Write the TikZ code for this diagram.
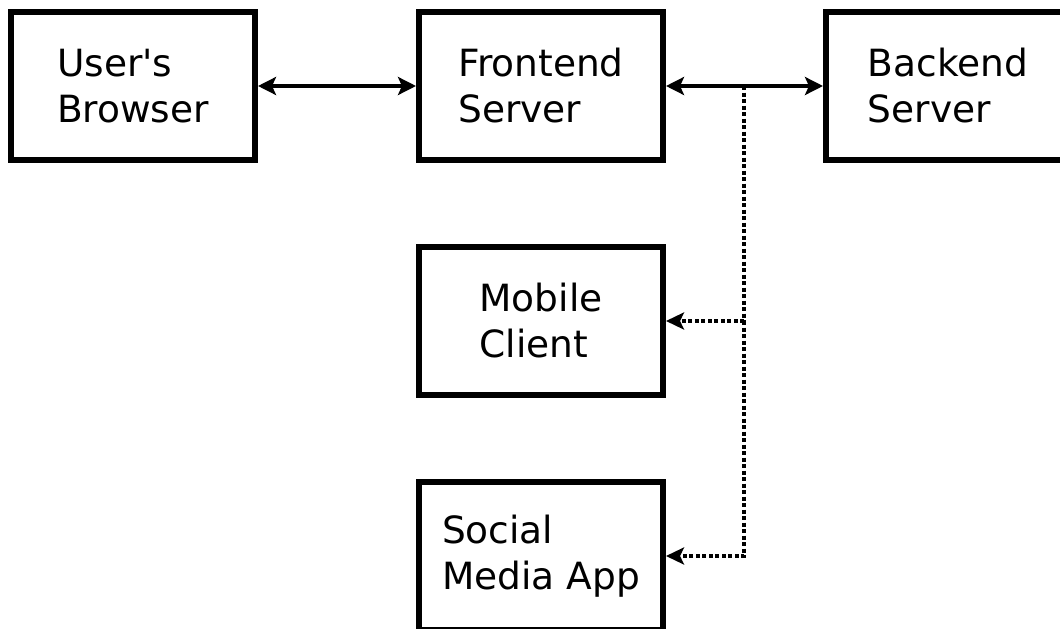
\documentclass[tikz,border=0pt]{standalone}
\usepackage{fontspec}
\setmainfont{DejaVu Sans}
\usetikzlibrary{arrows.meta}
\begin{document}
\begin{tikzpicture}[x=1pt,y=-1pt,
  box/.style={draw=black,line width=6pt,fill=white,minimum width=244pt,minimum height=148pt,
    inner sep=0pt,align=left,font=\fontsize{37.5}{46}\selectfont},
  link/.style={line width=3.5pt,{Stealth[length=18pt,width=18pt,inset=4pt]}-{Stealth[length=18pt,width=18pt,inset=4pt]}},
  feedline/.style={line width=4pt,dash pattern=on 4pt off 2.5pt},
  feed/.style={feedline,-{Stealth[length=18pt,width=17pt,inset=4pt]}}]
  \useasboundingbox (0,0) rectangle (1060,629);
  \node[box] (browser) at (133,86) {User\textquotesingle s\\Browser};
  \node[box] (front) at (541,86) {Frontend\\Server};
  \node[box] (back) at (948,86) {Backend\\Server};
  \node[box] (mobile) at (541,321) {Mobile\\Client};
  \node[box] (social) at (541,556) {Social\\Media App};
  \draw[link] (browser.east) -- (front.west);
  \draw[link] (front.east) -- (back.west);
  \coordinate (tap) at (744,86);
  \draw[feedline] (tap) -- (tap |- mobile.east);
  \draw[feed] (tap |- mobile.east) -- (mobile.east);
  \draw[feed] (tap |- mobile.east) |- (social.east);
\end{tikzpicture}
\end{document}
